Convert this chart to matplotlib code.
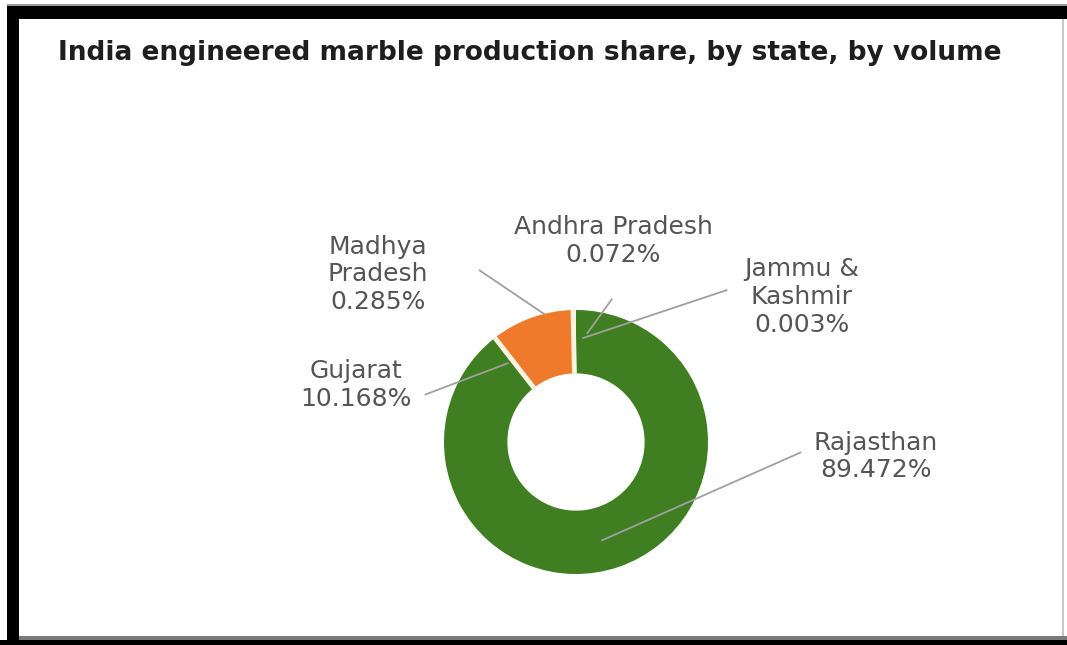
import matplotlib
matplotlib.use('Agg')
import matplotlib.pyplot as plt
from matplotlib.patches import Rectangle
import numpy as np

plt.rcParams['font.family'] = ['DejaVu Sans']

# data
states = ['Jammu & Kashmir', 'Andhra Pradesh', 'Madhya Pradesh', 'Gujarat', 'Rajasthan']
label_names = ['Jammu &\nKashmir', 'Andhra Pradesh', 'Madhya\nPradesh', 'Gujarat', 'Rajasthan']
shares = [0.003, 0.072, 0.285, 10.168, 89.472]
colors = ['#fbf3df', '#fbf3df', '#fbf3df', '#ef7a2c', '#3f7e21']

title = 'India engineered marble production share, by state, by volume'

W, H = 1067, 645
CX, CY, R = 576, 442, 132   # pie centre / radius in pixels

# label layout in pie units: text centre, leader start, leader end (angle deg, radius)
label_pos = {
    'Jammu & Kashmir': ((1.71, 1.10), (1.14, 1.15), (86, 0.79)),
    'Andhra Pradesh': ((0.28, 1.52), (0.27, 1.08), (84, 0.83)),
    'Madhya Pradesh': ((-1.50, 1.27), (-0.73, 1.30), (104, 1.0)),
    'Gujarat': ((-1.67, 0.43), (-1.14, 0.36), (131, 0.79)),
    'Rajasthan': ((2.27, -0.11), (1.70, -0.08), (-75, 0.77)),
}


def fig_rect(fig, x0, y0, x1, y1, color):
    fig.add_artist(Rectangle((x0 / W, 1 - y1 / H), (x1 - x0) / W, (y1 - y0) / H,
                             transform=fig.transFigure, color=color, lw=0, zorder=5))


fig = plt.figure(figsize=(W / 100, H / 100), dpi=100)
ax = fig.add_axes([0, 0, 1, 1])

wedges, _ = ax.pie(shares, colors=colors, startangle=90, counterclock=True,
                   wedgeprops=dict(width=0.48, linewidth=0))

# cream separators around the orange slice
for w in wedges[3:4]:
    for th in (w.theta1, w.theta2):
        t = np.deg2rad(th)
        ax.plot([0.52 * np.cos(t), 1.0 * np.cos(t)], [0.52 * np.sin(t), 1.0 * np.sin(t)],
                color='#fbf3df', lw=3.5, solid_capstyle='butt', zorder=3)

for name, lab, val in zip(states, label_names, shares):
    (tx, ty), (sx, sy), (ang, rad) = label_pos[name]
    ex = rad * np.cos(np.deg2rad(ang))
    ey = rad * np.sin(np.deg2rad(ang))
    ax.plot([sx, ex], [sy, ey], color='#a0a0a0', lw=1.3, zorder=4)
    ax.text(tx, ty, '{0}\n{1:.3f}%'.format(lab, val), ha='center', va='center',
            fontsize=18, color='#555555', linespacing=1.2, zorder=6)

ax.set_xlim(-CX / R, (W - CX) / R)
ax.set_ylim(-(H - CY) / R, CY / R)
ax.set_aspect('auto')
ax.axis('off')

fig.text(58 / W, 1 - 53 / H, title, ha='left', va='center', fontsize=19,
         fontweight='bold', color='#1e1e1e')

# picture frame
fig_rect(fig, 7, 4, W, 5.5, '#9a9a9a')
fig_rect(fig, 7, 6, W, 19, 'black')
fig_rect(fig, 7, 6, 19, H, 'black')
fig_rect(fig, 0, 640, W, H, 'black')
fig_rect(fig, 19, 636, W, 640, '#7a7a7a')
fig_rect(fig, 1062, 19, 1063.5, 636, '#c8c8c8')

fig.savefig('out.png', dpi=100, facecolor='white')
